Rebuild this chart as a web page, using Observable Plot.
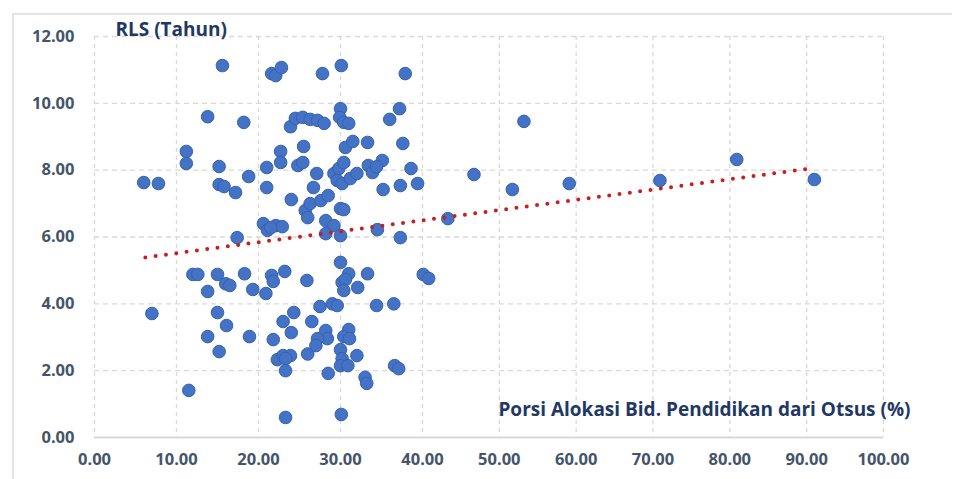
<!DOCTYPE html>
<html>
<head>
<meta charset="utf-8">
<script src="https://cdn.jsdelivr.net/npm/d3@7"></script>
<script src="https://cdn.jsdelivr.net/npm/@observablehq/plot@0.6"></script>
<style>
  html, body { margin: 0; padding: 0; background: #fff; }
  #wrap { position: relative; width: 958px; height: 479px; overflow: hidden; }
  #frame { position: absolute; left: 12px; top: 13px; width: 940px; height: 480px;
           border-left: 2px solid #e3e3e3; border-top: 2px solid #e3e3e3; box-sizing: border-box; }
  #chart { position: absolute; left: 0; top: 0; }
</style>
</head>
<body>
<div id="wrap"><div id="frame"></div><div id="chart"></div></div>
<script>
// Porsi Alokasi Bid. Pendidikan dari Otsus (%)
const porsi = [
  6.0, 7.8, 7.0, 11.2, 11.2, 11.5, 12.0, 12.6, 13.8, 13.8,
  13.8, 15.0, 15.0, 15.2, 15.6, 15.2, 15.2, 15.8, 16.0, 16.5,
  16.1, 17.2, 17.4, 18.2, 18.3, 18.8, 18.9, 19.3, 20.6, 21.1,
  20.9, 21.0, 21.0, 21.6, 22.1, 22.8, 21.6, 21.8, 21.8, 22.1,
  22.9, 21.5, 22.7, 22.7, 23.2, 23.0, 22.3, 23.0, 23.9, 23.3,
  23.3, 23.3, 23.9, 24.5, 25.4, 26.3, 27.2, 28.0, 24.3, 24.0,
  24.0, 24.8, 25.4, 25.5, 25.7, 26.0, 26.3, 27.6, 28.5, 25.9,
  26.5, 26.0, 27.5, 27.1, 26.7, 27.8, 28.2, 29.2, 28.2, 29.0,
  29.6, 28.2, 28.4, 27.2, 27.0, 28.5, 29.2, 29.6, 29.8, 30.1,
  30.0, 29.9, 30.4, 31.0, 30.4, 30.2, 30.6, 31.5, 33.3, 31.2,
  32.0, 33.4, 35.1, 33.9, 34.4, 30.0, 30.4, 30.0, 30.0, 31.0,
  33.3, 30.2, 30.6, 30.4, 32.1, 34.4, 36.5, 31.0, 30.4, 31.1,
  30.0, 30.2, 30.0, 30.9, 32.0, 33.0, 33.2, 36.6, 37.1, 30.1,
  34.5, 37.3, 37.9, 37.2, 36.0, 37.6, 38.6, 37.3, 39.4, 35.2,
  40.1, 40.8, 43.3, 46.7, 51.7, 53.2, 59.1, 70.9, 80.9, 91.0
];
// RLS (Tahun)
const rls = [
  7.63, 7.60, 3.71, 8.56, 8.20, 1.41, 4.88, 4.88, 9.60, 4.37,
  3.02, 4.88, 3.74, 2.57, 11.13, 8.11, 7.57, 7.51, 4.60, 4.55,
  3.35, 7.33, 5.98, 9.43, 4.90, 7.81, 3.02, 4.43, 6.40, 6.20,
  4.31, 8.08, 7.48, 10.89, 10.83, 11.07, 4.85, 4.67, 2.93, 6.34,
  6.31, 6.28, 8.56, 8.23, 4.97, 3.47, 2.33, 2.45, 2.45, 2.36,
  2.00, 0.60, 9.30, 9.55, 9.58, 9.52, 9.49, 9.40, 3.74, 3.14,
  7.12, 8.14, 8.23, 8.71, 6.79, 6.58, 7.00, 7.09, 7.24, 4.70,
  3.47, 2.50, 3.92, 7.90, 7.48, 10.89, 6.49, 6.34, 6.10, 4.00,
  3.95, 3.20, 2.96, 2.96, 2.75, 1.92, 7.90, 7.69, 8.05, 11.13,
  9.84, 9.58, 9.43, 9.40, 8.23, 7.60, 8.68, 8.86, 8.83, 7.75,
  7.90, 8.14, 8.29, 7.93, 8.10, 6.85, 6.82, 6.04, 5.24, 4.90,
  4.90, 4.64, 4.73, 4.40, 4.49, 3.95, 4.00, 3.23, 3.02, 2.96,
  2.63, 2.36, 2.15, 2.15, 2.45, 1.80, 1.62, 2.15, 2.06, 0.69,
  6.22, 5.98, 10.89, 9.84, 9.52, 8.80, 8.05, 7.54, 7.60, 7.42,
  4.88, 4.76, 6.55, 7.87, 7.42, 9.46, 7.60, 7.69, 8.32, 7.72
];
// Linear trend line
const trendX = [6.2, 90.5];
const trendY = [5.39, 8.05];

const xTicks = [0, 10, 20, 30, 40, 50, 60, 70, 80, 90, 100];
const yTicks = [0, 2, 4, 6, 8, 10, 12];
const yTitle = "RLS (Tahun)";
const xTitle = "Porsi Alokasi Bid. Pendidikan dari Otsus (%)";

const points = porsi.map((x, i) => ({x, y: rls[i]}));
const trend = trendX.map((x, i) => ({x, y: trendY[i]}));

const fmt = d => d.toFixed(2);
const tickColor = "#44546a";
const titleColor = "#1f3864";
const gridColor = "#d9d9d9";

const chart = Plot.plot({
  width: 958,
  height: 479,
  marginLeft: 94,
  marginRight: 75,
  marginTop: 36,
  marginBottom: 42,
  style: {fontFamily: "'Open Sans', Lato, sans-serif", background: "transparent", overflow: "visible"},
  x: {type: "linear", domain: [0, 40, 100], range: [94, 422, 883]},
  y: {type: "linear", domain: [0, 12]},
  marks: [
    Plot.gridY(yTicks.filter(d => d > 0), {stroke: gridColor, strokeOpacity: 1, strokeWidth: 1.3, strokeDasharray: "5,4"}),
    Plot.gridX(xTicks, {stroke: gridColor, strokeOpacity: 1, strokeWidth: 1.3, strokeDasharray: "4,4"}),
    Plot.ruleY([0], {stroke: gridColor, strokeWidth: 2}),
    Plot.axisX(xTicks, {tickFormat: fmt, tickSize: 0, tickPadding: 16, label: null,
      fontSize: 16.5, fontWeight: "bold", fill: tickColor}),
    Plot.axisY(yTicks, {tickFormat: fmt, tickSize: 0, tickPadding: 20, label: null,
      fontSize: 16.5, fontWeight: "bold", fill: tickColor}),
    Plot.dot(points, {x: "x", y: "y", r: 6.3, fill: "#4472c4", stroke: "#3561b0", strokeWidth: 1}),
    Plot.line(trend, {x: "x", y: "y", stroke: "#c81e1e", strokeWidth: 4,
      strokeDasharray: "0,10.4", strokeLinecap: "round"}),
    Plot.text([yTitle], {frameAnchor: "top-left", dx: 21, dy: -7, textAnchor: "start", lineAnchor: "middle",
      fontSize: 19, fontWeight: "bold", fill: titleColor}),
    Plot.text([xTitle], {frameAnchor: "bottom-right", dx: 27, dy: -28, textAnchor: "end", lineAnchor: "middle",
      fontSize: 19, fontWeight: "bold", fill: titleColor})
  ]
});
document.getElementById("chart").appendChild(chart);
</script>
</body>
</html>
